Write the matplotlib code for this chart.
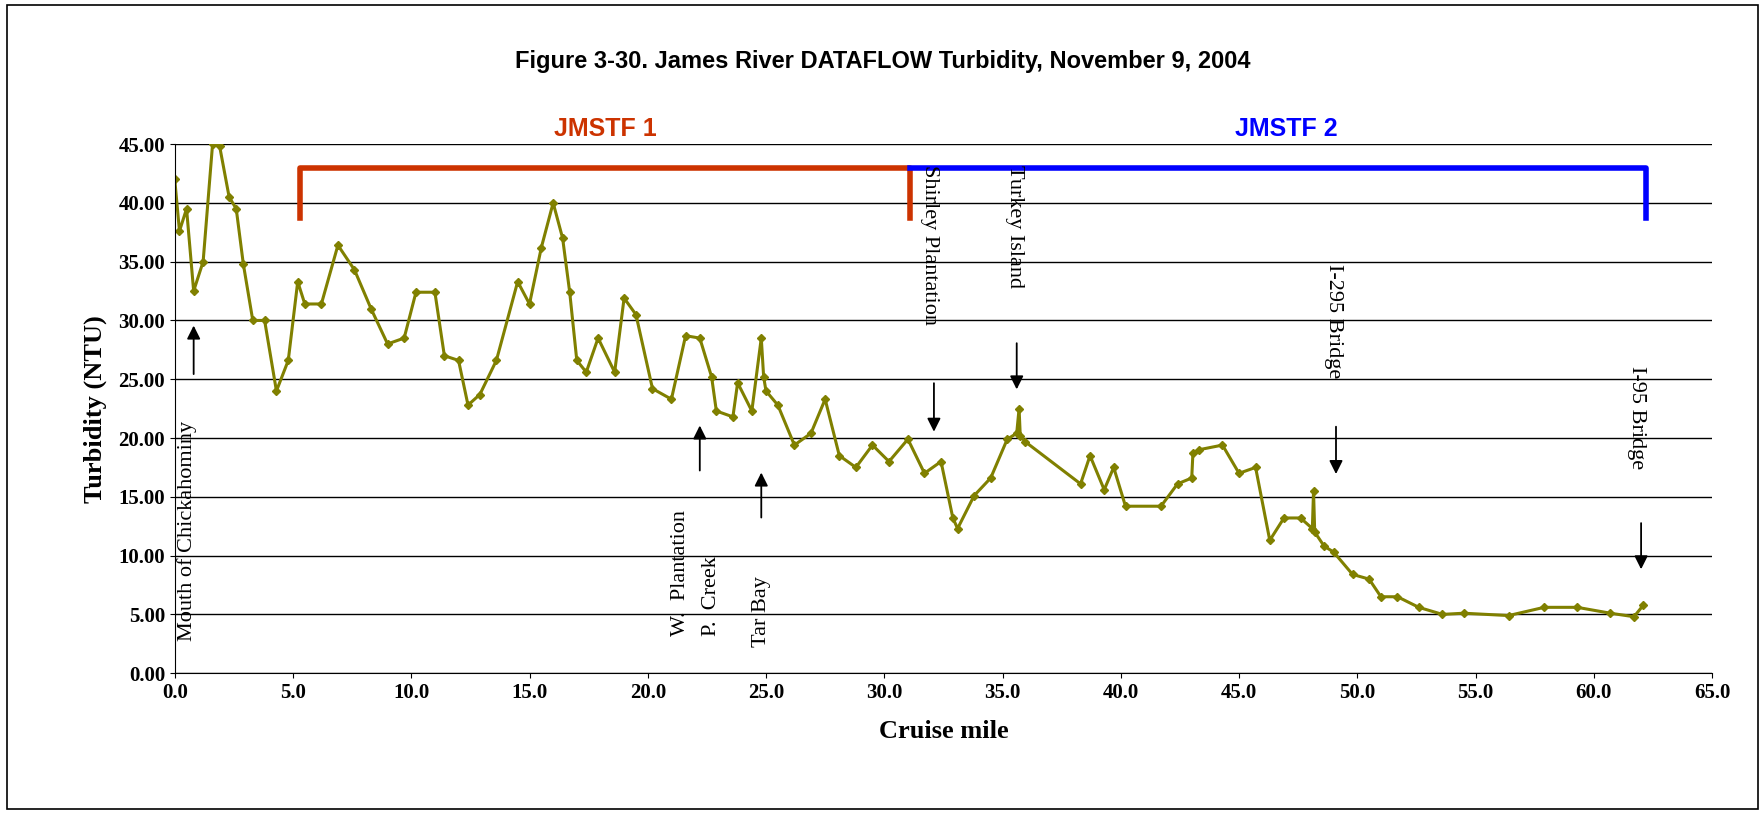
import matplotlib
matplotlib.use("Agg")
import matplotlib.pyplot as plt
from matplotlib.patches import Rectangle

miles = [0,0.2,0.5,0.8,1.2,1.6,1.9,2.3,2.6,2.9,3.3,3.8,4.3,4.8,5.2,5.5,6.2,6.9,7.6,8.3,9.0,9.7,10.2,11.0,11.4,12.0,12.4,12.9,13.6,14.5,15.0,15.5,16.0,16.4,16.7,17.0,17.4,17.9,18.6,19.0,19.5,20.2,21.0,21.6,22.2,22.7,22.9,23.6,23.8,24.4,24.8,24.9,25.0,25.5,26.2,26.9,27.5,28.1,28.8,29.5,30.2,31.0,31.7,32.4,32.9,33.1,33.8,34.5,35.2,35.6,35.7,35.75,35.95,38.3,38.7,39.3,39.7,40.2,41.7,42.4,43.0,43.05,43.3,44.3,45.0,45.7,46.3,46.9,47.6,48.1,48.15,48.2,48.6,49.0,49.8,50.5,51.0,51.7,52.6,53.6,54.5,56.4,57.9,59.3,60.7,61.7,62.1]
turb = [42,37.6,39.5,32.5,35,45,44.8,40.5,39.5,34.8,30,30,24,26.6,33.3,31.4,31.4,36.4,34.3,31,28,28.5,32.4,32.4,27,26.6,22.8,23.7,26.6,33.3,31.4,36.2,40,37,32.4,26.6,25.6,28.5,25.6,31.9,30.5,24.2,23.3,28.7,28.5,25.2,22.3,21.8,24.7,22.3,28.5,25.2,24,22.8,19.4,20.4,23.3,18.5,17.5,19.4,18,19.9,17,18,13.2,12.3,15.1,16.6,19.9,20.4,22.5,20.2,19.7,16.1,18.5,15.6,17.5,14.2,14.2,16.1,16.6,18.7,19,19.4,17,17.5,11.3,13.2,13.2,12.3,15.5,12.0,10.8,10.3,8.4,8,6.5,6.5,5.6,5,5.1,4.9,5.6,5.6,5.1,4.8,5.8]

x_ticks = [i*5.0 for i in range(14)]
y_ticks = [i*5.0 for i in range(10)]

fig = plt.figure(figsize=(17.65, 8.14), dpi=100)
fig.patches.append(Rectangle((0.004, 0.006), 0.992, 0.988, transform=fig.transFigure,
                             fill=False, edgecolor='black', lw=1.2))
ax = fig.add_axes([0.099, 0.173, 0.871, 0.65])
ax.set_xlim(0, 65); ax.set_ylim(0, 45)
ax.set_xticks(x_ticks); ax.set_yticks(y_ticks)
ax.set_xticklabels([f"{v:.1f}" for v in x_ticks])
ax.set_yticklabels([f"{v:.2f}" for v in y_ticks])
for lab in ax.get_xticklabels()+ax.get_yticklabels():
    lab.set_fontfamily('Liberation Serif'); lab.set_fontweight('bold'); lab.set_fontsize(15)
ax.grid(axis='y', color='black', lw=1)
ax.set_axisbelow(True)
for s in ['top', 'right']:
    ax.spines[s].set_visible(False)
ax.plot(miles, turb, color='#808000', lw=2.2, marker='D', ms=4)

ax.set_xlabel('Cruise mile', fontfamily='Liberation Serif', fontweight='bold', fontsize=19, labelpad=12)
ax.set_ylabel('Turbidity (NTU)', fontfamily='Liberation Serif', fontweight='bold', fontsize=19, labelpad=8)
fig.text(0.5, 0.925, 'Figure 3-30. James River DATAFLOW Turbidity, November 9, 2004',
         ha='center', va='center', fontfamily='Liberation Sans', fontweight='bold', fontsize=17)

ax.plot([5.3, 5.3, 31.1, 31.1], [38.7, 43, 43, 38.7], color='#cc3300', lw=4, clip_on=False)
ax.plot([31.1, 62.2, 62.2], [43, 43, 38.7], color='#0000ff', lw=4, clip_on=False)
ax.text(18.2, 46.3, 'JMSTF 1', color='#cc3300', ha='center', va='center', fontsize=18,
        fontweight='bold', fontfamily='Liberation Sans', clip_on=False)
ax.text(47.0, 46.3, 'JMSTF 2', color='#0000ff', ha='center', va='center', fontsize=18,
        fontweight='bold', fontfamily='Liberation Sans', clip_on=False)

tkw = dict(fontfamily='Liberation Serif', fontsize=16)
def arrow(x, y0, y1):
    ax.annotate('', xy=(x, y1), xytext=(x, y0),
                arrowprops=dict(arrowstyle='-|>', color='black', lw=1.3, mutation_scale=20))
ax.text(0.5, 2.7, 'Mouth of Chickahominy', rotation=90, ha='center', va='bottom', **tkw)
arrow(0.8, 25.2, 29.8)
ax.text(21.4, 3.2, 'W.  Plantation', rotation=90, ha='center', va='bottom', **tkw)
ax.text(22.7, 3.2, 'P.  Creek', rotation=90, ha='center', va='bottom', **tkw)
arrow(22.2, 17, 21.3)
ax.text(24.8, 2.2, 'Tar Bay', rotation=90, ha='center', va='bottom', **tkw)
arrow(24.8, 13, 17.3)
ax.text(31.9, 43.2, 'Shirley Plantation', rotation=-90, ha='center', va='top', **tkw)
arrow(32.1, 24.9, 20.3)
ax.text(35.5, 43.2, 'Turkey Island', rotation=-90, ha='center', va='top', **tkw)
arrow(35.6, 28.3, 23.9)
ax.text(49.0, 34.8, 'I-295 Bridge', rotation=-90, ha='center', va='top', **tkw)
arrow(49.1, 21.2, 16.7)
ax.text(61.8, 26.1, 'I-95 Bridge', rotation=-90, ha='center', va='top', **tkw)
arrow(62.0, 13, 8.6)

fig.savefig('out.png', dpi=100)
